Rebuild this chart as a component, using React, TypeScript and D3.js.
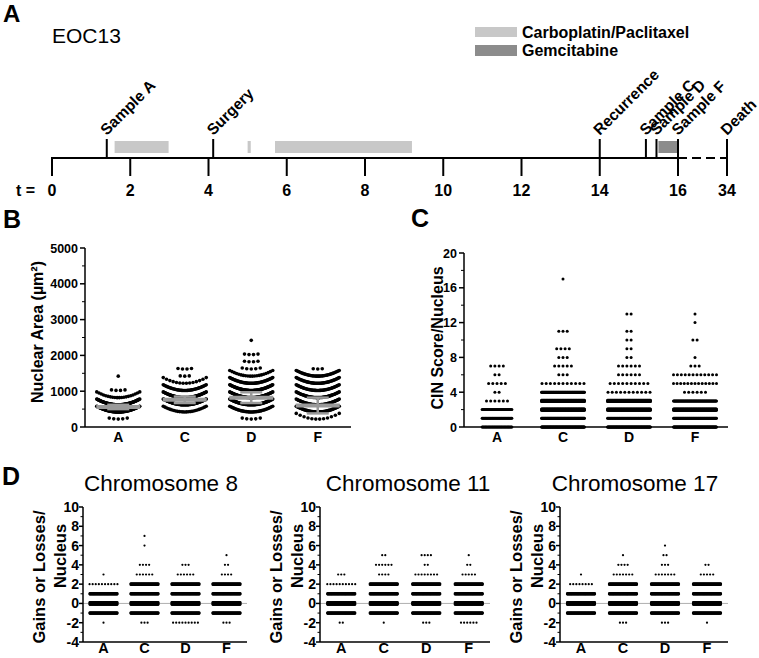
import React from "react";
import * as d3 from "d3";

const FONT = "'Liberation Sans', Arial, Helvetica, sans-serif";

// ---------------- Panel A: timeline ----------------
const timeTicks = [0, 2, 4, 6, 8, 10, 12, 14, 16, 34];
const eventLabels = ["Sample A", "Surgery", "Recurrence", "Sample C", "Sample D", "Sample F", "Death"];
const eventTimes = [1.4, 4.12, 14, 15.18, 15.45, 16, 34];
const carboStarts = [1.6, 5.0, 5.7];
const carboEnds = [2.98, 5.08, 9.2];
const gemStarts = [15.5];
const gemEnds = [16];
const treatmentNames = ["Carboplatin/Paclitaxel", "Gemcitabine"];
const treatmentColors = ["#c8c8c8", "#8c8c8c"];

// ---------------- Panel B: nuclear area ----------------
const samples = ["A", "C", "D", "F"];
const areaBinStarts = [0, 200, 400, 600, 800, 1000, 1200, 1400, 1600, 1800, 2000, 2200, 2400];
const areaCountsA = [0, 5, 90, 85, 20, 4, 0, 1, 0, 0, 0, 0, 0];
const areaCountsC = [0, 0, 25, 90, 80, 45, 14, 3, 4, 0, 0, 0, 0];
const areaCountsD = [0, 5, 40, 70, 80, 70, 50, 20, 5, 4, 4, 0, 1];
const areaCountsF = [0, 12, 55, 60, 55, 50, 45, 40, 3, 0, 0, 0, 0];
const areaMeans = [560, 760, 820, 600];
const areaErrors = [60, 90, 150, 220];
const areaTicks = [0, 1000, 2000, 3000, 4000, 5000];

// ---------------- Panel C: CIN score ----------------
const cinScores = [0, 1, 2, 3, 4, 5, 6, 7, 8, 9, 10, 11, 12, 13, 14, 15, 16, 17];
const cinCountsA = [40, 40, 35, 6, 2, 5, 2, 4, 0, 0, 0, 0, 0, 0, 0, 0, 0, 0];
const cinCountsC = [110, 95, 170, 170, 105, 11, 3, 5, 3, 4, 0, 3, 0, 0, 0, 0, 0, 1];
const cinCountsD = [110, 60, 150, 160, 11, 10, 6, 6, 2, 2, 2, 2, 0, 2, 0, 0, 0, 0];
const cinCountsF = [110, 80, 160, 80, 6, 13, 12, 3, 1, 0, 2, 0, 1, 1, 0, 0, 0, 0];
const cinTicks = [0, 4, 8, 12, 16, 20];

// ---------------- Panel D: chromosome gains/losses ----------------
const chromosomes = ["Chromosome 8", "Chromosome 11", "Chromosome 17"];
const gainValues = [-2, -1, 0, 1, 2, 3, 4, 5, 6, 7];
const chr8Counts = [
  [1, 150, 250, 150, 10, 1, 0, 0, 0, 0],
  [3, 150, 250, 150, 150, 6, 4, 0, 1, 1],
  [9, 150, 250, 150, 150, 6, 3, 0, 0, 0],
  [3, 150, 250, 150, 150, 4, 2, 1, 0, 0],
];
const chr11Counts = [
  [2, 150, 250, 150, 10, 3, 0, 0, 0, 0],
  [1, 150, 250, 150, 150, 4, 6, 2, 0, 0],
  [3, 150, 250, 150, 150, 8, 2, 4, 0, 0],
  [6, 150, 250, 150, 150, 5, 2, 1, 0, 0],
];
const chr17Counts = [
  [0, 150, 250, 150, 8, 1, 0, 0, 0, 0],
  [3, 150, 250, 150, 150, 7, 4, 1, 0, 0],
  [3, 150, 250, 150, 150, 7, 3, 2, 1, 0],
  [1, 150, 250, 150, 150, 5, 2, 0, 0, 0],
];
const gainTicks = [-4, -2, 0, 2, 4, 6, 8, 10];

// ---------------- helpers ----------------
function rowOffsets(n: number, spacing: number, cap: number): number[] {
  if (n <= 0) return [];
  if (n === 1) return [0];
  const width = Math.min(cap, spacing * (n - 1));
  const s = width / (n - 1);
  return d3.range(n).map((i) => (i - (n - 1) / 2) * s);
}

function rowLayout(n: number, spacing: number, cap: number, perLine: number, lineGap: number) {
  const k = Math.max(1, Math.ceil(n / perLine));
  const out: { dx: number; dy: number }[] = [];
  let remaining = n;
  for (let j = 0; j < k; j++) {
    const m = Math.ceil(remaining / (k - j));
    remaining -= m;
    const dy = (j - (k - 1) / 2) * lineGap;
    rowOffsets(m, spacing, cap).forEach((dx) => out.push({ dx, dy }));
  }
  return out;
}

function PanelA() {
  const tx = d3.scaleLinear().domain([0, 16, 34]).range([52, 678, 727]);
  const lineY = 158;
  const barTop = 141;
  const barH = 12;
  return (
    <g>
      <text x={3} y={22} fontSize={24} fontWeight="bold">A</text>
      <text x={52} y={43} fontSize={21}>EOC13</text>
      {treatmentNames.map((t, i) => (
        <g key={t}>
          <rect x={475} y={i === 0 ? 27 : 45} width={42} height={i === 0 ? 10 : 11} fill={treatmentColors[i]} />
          <text x={522} y={i === 0 ? 38 : 56} fontSize={16} fontWeight="bold">{t}</text>
        </g>
      ))}
      {carboStarts.map((s, i) => (
        <rect key={"c" + i} x={tx(s)} y={barTop} width={tx(carboEnds[i]) - tx(s)} height={barH} fill={treatmentColors[0]} />
      ))}
      {gemStarts.map((s, i) => (
        <rect key={"g" + i} x={tx(s)} y={barTop} width={tx(gemEnds[i]) - tx(s)} height={barH} fill={treatmentColors[1]} />
      ))}
      <line x1={tx(0)} x2={tx(16)} y1={lineY} y2={lineY} stroke="#000" strokeWidth={2} />
      <line x1={tx(16)} x2={tx(34)} y1={lineY} y2={lineY} stroke="#000" strokeWidth={2} strokeDasharray="9,5" />
      {timeTicks.map((t) => (
        <g key={"t" + t}>
          <line x1={tx(t)} x2={tx(t)} y1={lineY - 1} y2={176} stroke="#000" strokeWidth={2} />
          <text x={tx(t)} y={196} fontSize={16} fontWeight="bold" textAnchor="middle">{t}</text>
        </g>
      ))}
      <text x={16} y={196} fontSize={16} fontWeight="bold">t =</text>
      {eventLabels.map((e, i) => {
        const x = tx(eventTimes[i]);
        return (
          <g key={e}>
            <line x1={x} x2={x} y1={139} y2={lineY} stroke="#000" strokeWidth={2} />
            <text transform={`translate(${x},136) rotate(-45)`} fontSize={15.5} fontWeight="bold">{e}</text>
          </g>
        );
      })}
    </g>
  );
}

function PanelB() {
  const x = d3.scaleBand<string>().domain(samples).range([85, 351]);
  const y = d3.scaleLinear().domain([0, 5000]).range([427, 248]);
  const binSize = 200;
  const cap = 43;
  const countsBySample = [areaCountsA, areaCountsC, areaCountsD, areaCountsF];
  const dots: JSX.Element[] = [];
  samples.forEach((s, gi) => {
    const cx = (x(s) as number) + x.bandwidth() / 2;
    countsBySample[gi].forEach((n, bi) => {
      rowOffsets(n, 4.5, cap).forEach((dx, k) => {
        const t = Math.min(1, Math.abs(dx) / (cap / 2));
        const v = areaBinStarts[bi] + binSize * (0.1 + 0.8 * t * t);
        dots.push(<circle key={`${gi}-${bi}-${k}`} cx={cx + dx} cy={y(v)} r={1.8} fill="#000" />);
      });
    });
  });
  const minor = d3.range(500, 5000, 1000);
  return (
    <g>
      <text x={3} y={228} fontSize={25} fontWeight="bold">B</text>
      {dots}
      {samples.map((s, i) => {
        const cx = (x(s) as number) + x.bandwidth() / 2;
        const m = areaMeans[i];
        const e = areaErrors[i];
        return (
          <g key={"m" + s} stroke="#9a9a9a">
            <line x1={cx - 22} x2={cx + 22} y1={y(m)} y2={y(m)} strokeWidth={4} />
            <line x1={cx} x2={cx} y1={y(m - e)} y2={y(m + e)} strokeWidth={2.5} />
            <line x1={cx - 11} x2={cx + 11} y1={y(m + e)} y2={y(m + e)} strokeWidth={2.5} />
            <line x1={cx - 11} x2={cx + 11} y1={y(m - e)} y2={y(m - e)} strokeWidth={2.5} />
          </g>
        );
      })}
      <line x1={85} x2={85} y1={248} y2={427} stroke="#000" strokeWidth={1.5} />
      <line x1={85} x2={351} y1={427} y2={427} stroke="#000" strokeWidth={1.5} />
      {areaTicks.map((t) => (
        <g key={"bt" + t}>
          <line x1={80} x2={85} y1={y(t)} y2={y(t)} stroke="#000" strokeWidth={1.5} />
          <text x={78} y={y(t)} dy="0.36em" fontSize={12.5} fontWeight="bold" textAnchor="end">{t}</text>
        </g>
      ))}
      {minor.map((t) => (
        <line key={"bm" + t} x1={82} x2={85} y1={y(t)} y2={y(t)} stroke="#000" strokeWidth={1} />
      ))}
      {samples.map((s) => (
        <text key={"bl" + s} x={(x(s) as number) + x.bandwidth() / 2} y={442} fontSize={14} fontWeight="bold" textAnchor="middle">{s}</text>
      ))}
      <text transform="translate(37,332) rotate(-90)" dy="0.35em" fontSize={16} fontWeight="bold" textAnchor="middle">Nuclear Area (µm²)</text>
    </g>
  );
}

function PanelC() {
  const x = d3.scaleBand<string>().domain(samples).range([464, 728]);
  const y = d3.scaleLinear().domain([0, 20]).range([427, 253]);
  const countsBySample = [cinCountsA, cinCountsC, cinCountsD, cinCountsF];
  const dots: JSX.Element[] = [];
  samples.forEach((s, gi) => {
    const cx = (x(s) as number) + x.bandwidth() / 2;
    const total = d3.sum(countsBySample[gi]);
    const cap = 43 * Math.min(1, Math.sqrt(total / 280));
    countsBySample[gi].forEach((n, vi) => {
      rowLayout(n, 4.2, cap, 130, 1.3).forEach((p, k) => {
        dots.push(<circle key={`${gi}-${vi}-${k}`} cx={cx + p.dx} cy={y(cinScores[vi]) + p.dy} r={1.5} fill="#000" />);
      });
    });
  });
  const minor = d3.range(2, 20, 4);
  return (
    <g>
      <text x={411} y={227} fontSize={25} fontWeight="bold">C</text>
      {dots}
      <line x1={464} x2={464} y1={253} y2={427} stroke="#000" strokeWidth={1.5} />
      <line x1={464} x2={728} y1={427} y2={427} stroke="#000" strokeWidth={1.5} />
      {cinTicks.map((t) => (
        <g key={"ct" + t}>
          <line x1={459} x2={464} y1={y(t)} y2={y(t)} stroke="#000" strokeWidth={1.5} />
          <text x={457} y={y(t)} dy="0.36em" fontSize={12.5} fontWeight="bold" textAnchor="end">{t}</text>
        </g>
      ))}
      {minor.map((t) => (
        <line key={"cm" + t} x1={461} x2={464} y1={y(t)} y2={y(t)} stroke="#000" strokeWidth={1} />
      ))}
      {samples.map((s) => (
        <text key={"cl" + s} x={(x(s) as number) + x.bandwidth() / 2} y={442} fontSize={14} fontWeight="bold" textAnchor="middle">{s}</text>
      ))}
      <text transform="translate(437,338) rotate(-90)" dy="0.35em" fontSize={16} fontWeight="bold" textAnchor="middle">CIN Score/Nucleus</text>
    </g>
  );
}

function ChromPlot({ title, counts, x0, x1, titleX }: { title: string; counts: number[][]; x0: number; x1: number; titleX: number }) {
  const x = d3.scaleBand<string>().domain(samples).range([x0, x1]);
  const y = d3.scaleLinear().domain([-4, 10]).range([642, 507]);
  const dots: JSX.Element[] = [];
  samples.forEach((s, gi) => {
    const cx = (x(s) as number) + x.bandwidth() / 2;
    counts[gi].forEach((n, vi) => {
      rowLayout(n, 3.1, 28, 100, 1.1).forEach((p, k) => {
        dots.push(<circle key={`${gi}-${vi}-${k}`} cx={cx + p.dx} cy={y(gainValues[vi]) + p.dy} r={1.1} fill="#000" />);
      });
    });
  });
  const minor = d3.range(-3, 10, 2);
  return (
    <g>
      <text x={titleX} y={491} fontSize={22.5} textAnchor="middle">{title}</text>
      <line x1={x0} x2={x1} y1={y(0)} y2={y(0)} stroke="#b0b0b0" strokeWidth={1} />
      {dots}
      <line x1={x0} x2={x0} y1={507} y2={642} stroke="#000" strokeWidth={1.5} />
      <line x1={x0} x2={x1} y1={642} y2={642} stroke="#000" strokeWidth={1.5} />
      {gainTicks.map((t) => (
        <g key={"dt" + t}>
          <line x1={x0 - 4} x2={x0} y1={y(t)} y2={y(t)} stroke="#000" strokeWidth={1.5} />
          <text x={x0 - 4} y={y(t)} dy="0.36em" fontSize={14} fontWeight="bold" textAnchor="end">{t}</text>
        </g>
      ))}
      {minor.map((t) => (
        <line key={"dm" + t} x1={x0 - 2.5} x2={x0} y1={y(t)} y2={y(t)} stroke="#000" strokeWidth={1} />
      ))}
      {samples.map((s) => (
        <text key={"dl" + s} x={(x(s) as number) + x.bandwidth() / 2} y={653} fontSize={14.5} fontWeight="bold" textAnchor="middle">{s}</text>
      ))}
      <text transform={`translate(${x0 - 44},577) rotate(-90)`} dy="0.35em" fontSize={16.5} fontWeight="bold" textAnchor="middle">Gains or Losses/</text>
      <text transform={`translate(${x0 - 23},556) rotate(-90)`} dy="0.35em" fontSize={16.5} fontWeight="bold" textAnchor="middle">Nucleus</text>
    </g>
  );
}

function PanelD() {
  const allCounts = [chr8Counts, chr11Counts, chr17Counts];
  const plots = [
    { x0: 83, x1: 247, titleX: 161 },
    { x0: 320, x1: 490, titleX: 408 },
    { x0: 560, x1: 728, titleX: 635 },
  ];
  return (
    <g>
      <text x={2} y={485} fontSize={25} fontWeight="bold">D</text>
      {chromosomes.map((c, i) => (
        <ChromPlot key={c} title={c} counts={allCounts[i]} x0={plots[i].x0} x1={plots[i].x1} titleX={plots[i].titleX} />
      ))}
    </g>
  );
}

export default function App() {
  return (
    <svg
      width={759}
      height={658}
      viewBox="0 0 759 658"
      style={{ position: "absolute", left: 0, top: 0, background: "#fff" }}
      fontFamily={FONT}
    >
      <rect x={0} y={0} width={759} height={658} fill="#fff" />
      <PanelA />
      <PanelB />
      <PanelC />
      <PanelD />
    </svg>
  );
}
